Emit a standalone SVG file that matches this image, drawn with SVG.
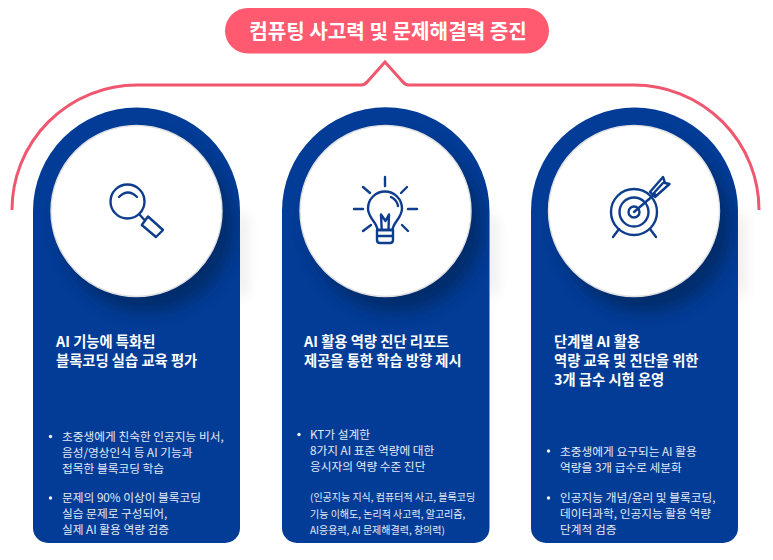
<svg xmlns="http://www.w3.org/2000/svg" width="773" height="560" viewBox="0 0 773 560">
<style>
text{font-family:"Noto Sans CJK KR","Noto Sans",sans-serif}
.title{font-size:20.150px;font-weight:700;fill:#fff}
.head{font-size:14.3px;font-weight:700;fill:#fff}
.body{font-size:11.7px;font-weight:400;fill:#e3eaf7}
.small{font-size:10px;font-weight:400;fill:#e3eaf7}
.card{fill:#023c96}
.disc{fill:#fff;stroke:#e0e0e3;stroke-width:1.4}
.ico{fill:none;stroke:#0d3d8c;stroke-width:2.4;stroke-linecap:round;stroke-linejoin:round}
.dot{fill:#f2f5fb}
.shade{fill:#01214f;opacity:.6}
.halo{fill:#000;opacity:.07}
</style>
<defs>
<filter id="soft" x="-30%" y="-30%" width="160%" height="160%"><feGaussianBlur stdDeviation="8"/></filter>
<filter id="out" x="-200%" y="-30%" width="500%" height="160%"><feGaussianBlur stdDeviation="7"/></filter>
<clipPath id="c1"><path d="M33 211a103.500 103.500 0 0 1 207 0V528a15 15 0 0 1-15 15H48a15 15 0 0 1-15-15Z"/></clipPath>
<clipPath id="c2"><path d="M282 211a103.750 103.750 0 0 1 207.500 0V528a15 15 0 0 1-15 15H297a15 15 0 0 1-15-15Z"/></clipPath>
<clipPath id="c3"><path d="M531 211a103.500 103.500 0 0 1 207 0V528a15 15 0 0 1-15 15H546a15 15 0 0 1-15-15Z"/></clipPath>
</defs>
<rect width="773" height="560" fill="#fff"/>
<g id="connectors">
<path d="M12 210A125 125 0 0 1 137 85H361Q365 85 368 81L385 62L402 81Q405 85 409 85H634A125 125 0 0 1 759 210" fill="none" stroke="#f0566e" stroke-width="3"/>
</g>
<g id="title"><rect x="225" y="8" width="324" height="45.500" rx="22.700" fill="#ff5a70"/><text class="title" x="388" y="38.500" text-anchor="middle">컴퓨팅 사고력 및 문제해결력 증진</text></g>
<g id="card1">
<rect class="halo" x="234" y="215" width="14" height="80" filter="url(#out)"/>
<path class="card" d="M33 211a103.500 103.500 0 0 1 207 0V528a15 15 0 0 1-15 15H48a15 15 0 0 1-15-15Z"/>
<g clip-path="url(#c1)"><circle class="shade" cx="147" cy="226" r="86" filter="url(#soft)"/></g>
<circle class="disc" cx="136.500" cy="211" r="85.500"/>
<g class="ico"><circle cx="127.500" cy="201.500" r="17"/><path d="M119 197Q128 188 137 197"/><path d="M139.500 214.500L144 219.500M141.800 225L148 216.500L163 230L156 237Z"/></g>
<text class="head" x="56" y="347">AI 기능에 특화된</text><text class="head" x="56" y="366">블록코딩 실습 교육 평가</text>
<circle class="dot" cx="50.500" cy="436.500" r="1.700"/>
<text class="body" x="62" y="441">초중생에게 친숙한 인공지능 비서,</text><text class="body" x="62" y="457">음성/영상인식 등 AI 기능과</text><text class="body" x="62" y="473">접목한 블록코딩 학습</text>
<circle class="dot" cx="50.500" cy="498" r="1.700"/>
<text class="body" x="62" y="502">문제의 90% 이상이 블록코딩</text><text class="body" x="62" y="518">실습 문제로 구성되어,</text><text class="body" x="62" y="534">실제 AI 활용 역량 검증</text>
</g>
<g id="card2">
<rect class="halo" x="483" y="215" width="14" height="80" filter="url(#out)"/>
<path class="card" d="M282 211a103.750 103.750 0 0 1 207.500 0V528a15 15 0 0 1-15 15H297a15 15 0 0 1-15-15Z"/>
<g clip-path="url(#c2)"><circle class="shade" cx="396" cy="226" r="86" filter="url(#soft)"/></g>
<circle class="disc" cx="385.500" cy="211" r="85.500"/>
<g class="ico"><path d="M377.500 230C377 222 368 218 368 208.500A17 17 0 0 1 402 208.500C402 218 393 222 392.500 230Z"/><path d="M391 197Q397 200 398 206"/><path d="M381.700 229L381 214.500L385.500 221M388.500 229L389 214.500L385.500 221"/><path d="M377 230H393V240Q393 243 390 243H380Q377 243 377 240ZM377 236H393"/><path d="M385 177V186M363 187L370 193M407 187L401 193M354 209H363M408 209H417M363 231L371 225M408 231L402 225"/></g>
<text class="head" x="304" y="347">AI 활용 역량 진단 리포트</text><text class="head" x="304" y="366">제공을 통한 학습 방향 제시</text>
<circle class="dot" cx="299" cy="434.500" r="1.700"/>
<text class="body" x="310" y="439">KT가 설계한</text><text class="body" x="310" y="455">8가지 AI 표준 역량에 대한</text><text class="body" x="310" y="471">응시자의 역량 수준 진단</text>
<text class="small" x="310" y="501">(인공지능 지식, 컴퓨터적 사고, 블록코딩</text><text class="small" x="310" y="518">기능 이해도, 논리적 사고력, 알고리즘,</text><text class="small" x="310" y="534">AI응용력, AI 문제해결력, 창의력)</text>
</g>
<g id="card3">
<rect class="halo" x="732" y="215" width="14" height="80" filter="url(#out)"/>
<path class="card" d="M531 211a103.500 103.500 0 0 1 207 0V528a15 15 0 0 1-15 15H546a15 15 0 0 1-15-15Z"/>
<g clip-path="url(#c3)"><circle class="shade" cx="645" cy="226" r="86" filter="url(#soft)"/></g>
<circle class="disc" cx="634" cy="211" r="85.500"/>
<g class="ico"><circle cx="634" cy="212" r="23"/><circle cx="634" cy="212" r="14.500"/><circle cx="634" cy="212" r="5.500"/><path d="M634 212L655 194M650 192L663 177L665 183L669.500 184L655 197ZM653 194L663 183"/><path d="M619 229L613 237M650 229L656 237"/></g>
<text class="head" x="554" y="347">단계별 AI 활용</text><text class="head" x="554" y="366">역량 교육 및 진단을 위한</text><text class="head" x="554" y="385">3개 급수 시험 운영</text>
<circle class="dot" cx="548.500" cy="451" r="1.700"/>
<text class="body" x="560" y="456">초중생에게 요구되는 AI 활용</text><text class="body" x="560" y="472">역량을 3개 급수로 세분화</text>
<circle class="dot" cx="548.500" cy="498" r="1.700"/>
<text class="body" x="560" y="502">인공지능 개념/윤리 및 블록코딩,</text><text class="body" x="560" y="518">데이터과학, 인공지능 활용 역량</text><text class="body" x="560" y="534">단계적 검증</text>
</g>
</svg>
